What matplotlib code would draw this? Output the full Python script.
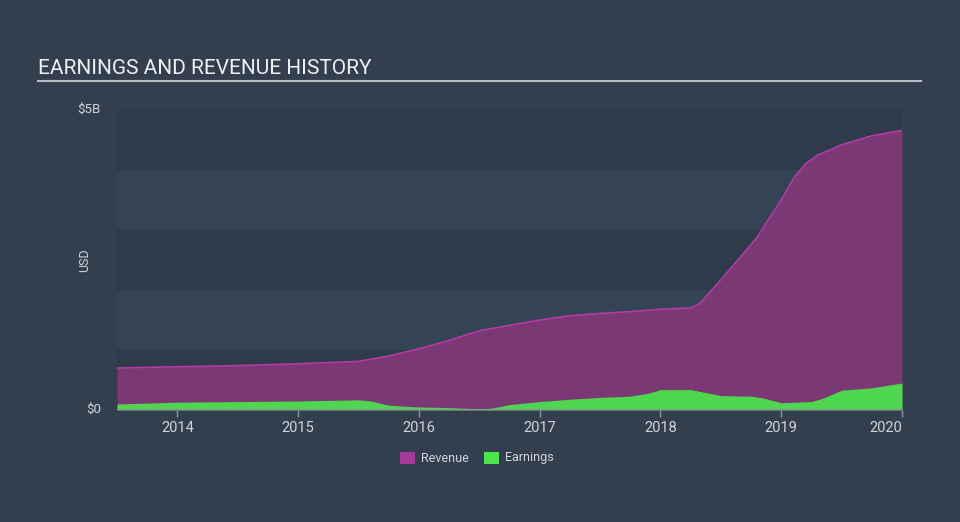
import numpy as np
import matplotlib.pyplot as plt
from matplotlib.patches import Rectangle

plt.rcParams['font.family'] = ['Roboto', 'DejaVu Sans']

# values in billions USD
rev_x = [2013.5, 2014.0, 2014.5, 2015.0, 2015.5, 2015.75, 2016.0, 2016.25, 2016.5,
         2016.75, 2017.0, 2017.25, 2017.5, 2017.75, 2018.0, 2018.25, 2018.33,
         2018.5, 2018.65, 2018.8, 2019.0, 2019.1, 2019.2, 2019.3, 2019.4, 2019.5,
         2019.75, 2020.0]
revenue = [0.70, 0.72, 0.74, 0.77, 0.81, 0.90, 1.02, 1.16, 1.32,
           1.41, 1.50, 1.57, 1.61, 1.64, 1.68, 1.70, 1.78,
           2.17, 2.52, 2.88, 3.50, 3.85, 4.10, 4.25, 4.33, 4.42,
           4.57, 4.66]

earn_x = [2013.5, 2014.0, 2014.5, 2015.0, 2015.5, 2015.6, 2015.75, 2016.0, 2016.25,
          2016.5, 2016.6, 2016.75, 2017.0, 2017.25, 2017.5, 2017.75, 2017.9,
          2018.0, 2018.25, 2018.35, 2018.5, 2018.75, 2018.85, 2019.0, 2019.25,
          2019.35, 2019.5, 2019.75, 2020.0]
earnings = [0.10, 0.13, 0.14, 0.15, 0.17, 0.15, 0.08, 0.05, 0.04,
            0.02, 0.03, 0.09, 0.14, 0.18, 0.21, 0.23, 0.28,
            0.34, 0.34, 0.30, 0.24, 0.23, 0.20, 0.12, 0.14,
            0.20, 0.33, 0.37, 0.45]

years = [2014, 2015, 2016, 2017, 2018, 2019, 2020]

BG = '#333f4e'
BAND_DARK = '#2f3b4a'
BAND_LIGHT = '#354455'
REV_FILL = '#7b3874'
REV_LINE = '#b23ca5'
EARN = '#4fd64f'
TXT = '#d0d4d9'

fig = plt.figure(figsize=(9.6, 5.22), dpi=100, facecolor=BG)
ax = fig.add_axes([117/960, 1 - 410/522, (902 - 117)/960, 300/522])
ax.set_facecolor(BG)

x0, x1 = 2013.5, 2020.0
for i in range(5):
    c = BAND_DARK if i % 2 == 0 else BAND_LIGHT
    ax.add_patch(Rectangle((x0, i), x1 - x0, 1, facecolor=c, edgecolor='none', zorder=0))

ax.fill_between(rev_x, 0, revenue, color=REV_FILL, lw=0, zorder=2)
ax.plot(rev_x, revenue, color=REV_LINE, lw=1.2, zorder=3)
ax.fill_between(earn_x, 0, earnings, color=EARN, lw=0, zorder=4)

ax.set_xlim(x0, x1)
ax.set_ylim(0, 5)
for s in ax.spines.values():
    s.set_visible(False)
ax.axhline(0, color='#8a97a6', lw=1.5, zorder=5)

ax.set_xticks(years)
ax.set_xticklabels([str(y) for y in years])
ax.tick_params(axis='x', colors='#8a97a6', length=5, width=1, labelcolor=TXT, labelsize=10.5, pad=3)
ax.get_xticklabels()[-1].set_horizontalalignment('right')
ax.set_yticks([])

fig.text(101/960, 1 - 109/522, '$5B', color=TXT, fontsize=9.5, ha='right', va='center')
fig.text(101/960, 1 - 409/522, '$0', color=TXT, fontsize=9.5, ha='right', va='center')
fig.text(85/960, 1 - 260/522, 'USD', color=TXT, fontsize=9, rotation=90, ha='center', va='center')

fig.text(38/960, 1 - 68/522, 'EARNINGS AND REVENUE HISTORY', color='#eef0f2', fontsize=15,
         ha='left', va='center')
fig.add_artist(plt.Line2D([38/960, 921/960], [1 - 81/522, 1 - 81/522], color='#b8bec6', lw=1.5))

# legend
fig.add_artist(Rectangle((400/960, 1 - 464/522), 15/960, 12/522, facecolor='#a53a9a',
                         transform=fig.transFigure, edgecolor='none'))
fig.text(421/960, 1 - 458/522, 'Revenue', color=TXT, fontsize=9, ha='left', va='center')
fig.add_artist(Rectangle((484/960, 1 - 464/522), 15/960, 12/522, facecolor='#4ee44e',
                         transform=fig.transFigure, edgecolor='none'))
fig.text(505/960, 1 - 458/522, 'Earnings', color=TXT, fontsize=9, ha='left', va='center')

fig.savefig('out.png', dpi=100, facecolor=BG)
